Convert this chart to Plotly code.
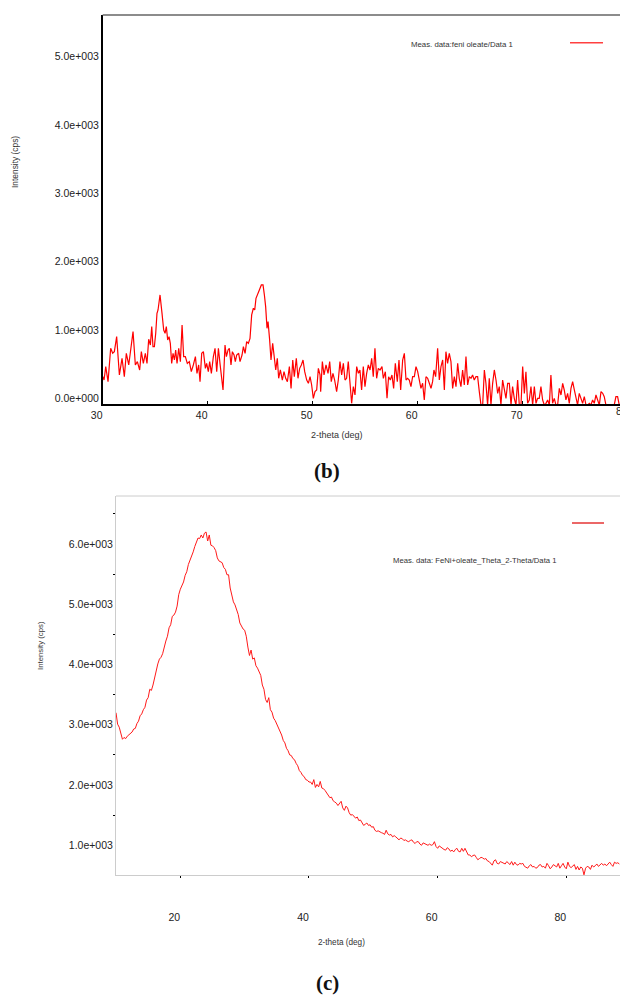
import plotly.graph_objects as go

# ---------------- panel (b): feni oleate, 30-80 deg ----------------
two_theta_b = [
    30.0, 30.13, 30.29, 30.51, 30.76, 30.95, 31.11, 31.33, 31.59, 31.84, 32.06, 32.25, 32.48, 32.67,
    32.89, 33.11, 33.30, 33.52, 33.68, 33.87, 34.06, 34.22, 34.38, 34.54, 34.67, 34.79, 34.92, 35.05,
    35.17, 35.27, 35.46, 35.65, 35.81, 35.94, 36.06, 36.19, 36.32, 36.44, 36.57, 36.70, 36.83, 36.95,
    37.08, 37.24, 37.40, 37.56, 37.71, 37.87, 38.06, 38.25, 38.44, 38.63, 38.83, 38.98, 39.14, 39.27,
    39.43, 39.59, 39.78, 39.90, 40.06, 40.19, 40.35, 40.54, 40.70, 40.86, 41.02, 41.17, 41.33, 41.46,
    41.65, 41.78, 41.94, 42.06, 42.22, 42.35, 42.51, 42.63, 42.76, 42.95, 43.08, 43.27, 43.40, 43.56,
    43.71, 43.87, 44.03, 44.19, 44.35, 44.48, 44.60, 44.76, 44.92, 45.11, 45.27, 45.40, 45.52, 45.65,
    45.75, 45.90, 46.03, 46.19, 46.32, 46.48, 46.63, 46.76, 46.92, 47.11, 47.27, 47.43, 47.59, 47.78,
    47.94, 48.10, 48.25, 48.44, 48.60, 48.76, 48.92, 49.08, 49.24, 49.43, 49.59, 49.75, 49.90, 50.06,
    50.22, 50.38, 50.54, 50.70,
    50.76, 50.92, 51.08, 51.27, 51.46, 51.62, 51.77, 51.93, 52.09, 52.28, 52.44, 52.60, 52.76, 52.92,
    53.08, 53.23, 53.39, 53.55, 53.71, 53.87, 54.03, 54.19, 54.35, 54.50, 54.66, 54.82, 54.98, 55.14,
    55.30, 55.46, 55.62, 55.77, 55.93, 56.09, 56.25, 56.41, 56.60, 56.73, 56.92, 57.08, 57.23, 57.39,
    57.55, 57.71, 57.87, 58.06, 58.22, 58.38, 58.57, 58.73, 58.89, 59.04, 59.20, 59.36, 59.52, 59.68,
    59.84, 60.00, 60.16, 60.31, 60.47, 60.63, 60.79, 60.95, 61.11, 61.27, 61.42, 61.55, 61.71, 61.90,
    62.06, 62.22, 62.38, 62.54, 62.69, 62.85, 63.01, 63.17, 63.33, 63.49, 63.65, 63.81, 63.96, 64.12,
    64.28, 64.44, 64.60, 64.76, 64.92, 65.08, 65.23, 65.39, 65.55, 65.71, 65.87, 66.03, 66.19, 66.35,
    66.50, 66.66, 66.82, 66.98, 67.14, 67.30, 67.46, 67.62, 67.77, 67.93, 68.09, 68.25, 68.41, 68.57,
    68.73, 68.89, 69.04, 69.20, 69.36, 69.52, 69.68, 69.84, 70.00, 70.16, 70.31, 70.47, 70.63, 70.79,
    70.95, 71.11, 71.27, 71.42, 71.58, 71.74, 71.90, 72.06, 72.22, 72.38, 72.54, 72.69, 72.85, 73.01,
    73.17, 73.33, 73.49, 73.65, 73.81, 73.96, 74.12, 74.28, 74.44, 74.60, 74.76, 74.92, 75.08, 75.23,
    75.39, 75.55, 75.71, 75.87, 76.03, 76.19, 76.35, 76.50, 76.66, 76.82, 76.98, 77.14, 77.30, 77.46,
    77.62, 77.77, 77.93, 78.09, 78.25, 78.41, 78.57, 78.72, 78.88, 79.04, 79.20,
]
intensity_b = [
    320, 268, 464, 244, 732, 659, 683, 903, 342, 586, 317, 659, 488, 732,
    976, 488, 537, 415, 683, 512, 659, 512, 864, 781, 1049, 756, 756, 952,
    1244, 1293, 1513, 1244, 1000, 952, 1049, 854, 903, 805, 512, 659, 561, 708,
    512, 732, 537, 1074, 610, 610, 512, 537, 390, 488, 610, 366, 488, 244,
    659, 683, 439, 512, 390, 537, 366, 610, 732, 390, 732, 512, 268, 122,
    781, 610, 708, 732, 488, 683, 634, 537, 634, 659, 537, 634, 756, 659,
    830, 805, 878, 1220, 1318, 1293, 1464, 1513, 1586, 1659, 1659, 1513, 1342, 1025,
    1122, 854, 561, 805, 634, 415, 586, 293, 415, 268, 390, 293, 244, 464,
    146, 561, 317, 586, 293, 439, 488, 561, 390, 268, 220, 317, 195, 0,
    98, 122, 439, 342,
    98, 537, 342, 488, 366, 537, 244, 366, 268, 98, 268, 537, 342, 512,
    268, 293, 537, 220, -73, 171, 49, 464, 366, 415, 122, 464, 171, 366,
    488, 415, 586, 317, 732, 293, 439, 415, 464, 293, 390, 0, 317, 268,
    342, 146, 512, 244, 561, 122, 561, 659, 268, 293, 268, 171, 317, 317,
    464, 390, 268, 146, 220, -24, 317, 293, 220, 146, 244, 415, 317, 732,
    268, 464, 561, 122, 683, 512, 659, 537, 146, 317, 171, 512, 293, 171,
    415, 195, 610, 195, 317, 293, 342, 268, 317, 317, 98, -98, -98, 415,
    220, -98, 293, -98, 220, 415, 268, 73, 171, -98, 268, 146, 0, 220,
    220, -98, 171, 0, -98, 268, -98, -98, 464, 73, 390, -73, -24, 171,
    -98, 171, -73, 0, 0, 171, -24, -98, -73, -24, -98, 342, -73, 0,
    -98, -98, 146, 49, 220, 122, -24, 73, -73, 146, 244, 122, -24, -98,
    73, 0, -73, 24, -98, -98, -73, -98, -24, -73, 49, -24, -98, 98,
    73, 24, -98, -98, -98, -98, -98, -98, 24, 24, -98,
]

# ---------------- panel (c): FeNi+oleate, 0.25 deg scan from 10 deg ----------------
scan_start_c, scan_step_c = 10.0, 0.25
intensity_c = [
    3200, 3010, 2960, 2850,   # 10
    2760, 2790, 2770, 2810,   # 11
    2830, 2860, 2880, 2930,   # 12
    2940, 3020, 3060, 3150,   # 13
    3180, 3250, 3290, 3410,   # 14
    3450, 3590, 3570, 3660,   # 15
    3790, 3860, 4010, 4090,   # 16
    4120, 4180, 4310, 4390,   # 17
    4470, 4610, 4660, 4800,   # 18
    4820, 4870, 4970, 5160,   # 19
    5250, 5310, 5370, 5480,   # 20
    5540, 5660, 5720, 5810,   # 21
    5870, 5960, 6020, 6100,   # 22
    6090, 6150, 6100, 6180,   # 23
    6200, 6050, 6150, 5980,   # 24
    5970, 5940, 5890, 5770,   # 25
    5720, 5700, 5690, 5610,   # 26
    5580, 5490, 5490, 5270,   # 27
    5170, 5040, 4990, 4900,   # 28
    4830, 4690, 4640, 4590,   # 29
    4570, 4470, 4290, 4150,   # 30
    4240, 4090, 4110, 3980,   # 31
    3940, 3870, 3820, 3660,   # 32
    3590, 3420, 3370, 3450,   # 33
    3250, 3210, 3110, 3070,   # 34
    3010, 2960, 2880, 2830,   # 35
    2740, 2700, 2610, 2570,   # 36
    2500, 2490, 2440, 2420,   # 37
    2360, 2320, 2240, 2210,   # 38
    2160, 2140, 2090, 2080,   # 39
    2050, 2050, 2010, 2090,   # 40
    1960, 2010, 1970, 2060,   # 41
    1950, 1940, 1910, 1870,   # 42
    1840, 1790, 1800, 1740,   # 43
    1720, 1700, 1660, 1690,   # 44
    1730, 1620, 1580, 1650,   # 45
    1620, 1540, 1500, 1510,   # 46
    1470, 1450, 1470, 1410,   # 47
    1420, 1380, 1330, 1350,   # 48
    1370, 1330, 1340, 1300,   # 49
    1310, 1250, 1230, 1240,   # 50
    1220, 1210, 1200, 1180,   # 51
    1250, 1190, 1170, 1180,   # 52
    1140, 1160, 1140, 1120,   # 53
    1090, 1120, 1110, 1080,   # 54
    1090, 1070, 1060, 1080,   # 55
    1090, 1050, 1030, 1060,   # 56
    1060, 1020, 1000, 1040,   # 57
    1030, 1010, 1000, 1020,   # 58
    1000, 1010, 1060, 980,    # 59
    950, 990, 970, 940,       # 60
    930, 920, 960, 940,       # 61
    900, 920, 890, 930,       # 62
    950, 900, 890, 950,       # 63
    900, 950, 880, 840,       # 64
    840, 810, 830, 840,       # 65
    800, 760, 780, 800,       # 66
    790, 770, 780, 740,       # 67
    730, 700, 670, 740,       # 68
    760, 700, 690, 730,       # 69
    720, 700, 690, 730,       # 70
    710, 680, 730, 670,       # 71
    720, 680, 670, 700,       # 72
    690, 700, 650, 640,       # 73
    620, 660, 680, 640,       # 74
    650, 620, 630, 670,       # 75
    680, 640, 650, 620,       # 76
    700, 660, 610, 640,       # 77
    680, 660, 640, 700,       # 78
    620, 660, 700, 640,       # 79
    610, 720, 650, 630,       # 80
    660, 680, 600, 650,       # 81
    590, 640, 620, 510,       # 82
    620, 650, 640, 600,       # 83
    670, 640, 660, 690,       # 84
    650, 680, 700, 670,       # 85
    690, 660, 700, 720,       # 86
    680, 650, 720, 700,       # 87
    710, 690,                 # 88
]
two_theta_c = [scan_start_c + scan_step_c * i for i in range(len(intensity_c))]

# tick labels in the instrument's exponent style
ticks_b = [0, 1000, 2000, 3000, 4000, 5000]
ticks_c = [1000, 2000, 3000, 4000, 5000, 6000]
xticks_b = [30, 40, 50, 60, 70]
xticks_c = [20, 40, 60, 80]


def sci(v):
    m, e = f"{v:.1e}".split("e")
    return f"{m}e{e[0]}{int(e[1:]):03d}"


W, H = 620, 997
FONT = "Liberation Sans, Arial, sans-serif"


def px_x(p):
    return p / W


def px_y(p):
    return 1 - p / H


# panel frames (pixel positions)
b_left, b_top, b_bottom = 102.7, 15, 404
c_left, c_top, c_bottom = 116, 496, 875

fig = go.Figure()
fig.add_trace(go.Scatter(x=two_theta_b, y=intensity_b, mode="lines",
                         line=dict(color="#ff0000", width=1.2),
                         xaxis="x", yaxis="y", showlegend=False, hoverinfo="skip"))
fig.add_trace(go.Scatter(x=two_theta_c, y=intensity_c, mode="lines",
                         line=dict(color="#ff1a1a", width=1),
                         xaxis="x2", yaxis="y2", showlegend=False, hoverinfo="skip"))

tick_font = dict(family=FONT, size=10.5, color="#222")

fig.update_layout(
    width=W, height=H,
    margin=dict(l=0, r=0, t=0, b=0, pad=0),
    paper_bgcolor="white", plot_bgcolor="white",
    xaxis=dict(domain=[px_x(b_left), 1], range=[30, 79.27], anchor="y", automargin=False,
               tickvals=xticks_b, ticktext=[str(v) for v in xticks_b],
               ticks="inside", ticklen=3, tickcolor="black", tickwidth=1,
               ticklabelshift=-6,
               showline=True, linecolor="black", linewidth=2,
               showgrid=False, zeroline=False, tickfont=tick_font),
    yaxis=dict(domain=[px_y(b_bottom), px_y(b_top)], range=[-83, 5610], anchor="x",
               automargin=False,
               tickvals=ticks_b, ticktext=[sci(v) for v in ticks_b], ticks="",
               showline=True, linecolor="black", linewidth=1.5,
               showgrid=False, zeroline=False, tickfont=tick_font),
    xaxis2=dict(domain=[px_x(c_left), 1], range=[10, 88.35], anchor="y2", automargin=False,
                tickvals=xticks_c, ticktext=[str(v) for v in xticks_c],
                ticks="outside", ticklen=2, tickcolor="black", tickwidth=1,
                ticklabelstandoff=30, ticklabelshift=-6,
                showline=True, linecolor="#cccccc", linewidth=1,
                showgrid=False, zeroline=False, tickfont=tick_font),
    yaxis2=dict(domain=[px_y(c_bottom), px_y(c_top)], range=[507, 6797], anchor="x2",
                automargin=False,
                tickvals=ticks_c, ticktext=[sci(v) for v in ticks_c], ticks="",
                minor=dict(tickvals=[1500, 2500, 3500, 4500, 5500, 6500],
                           ticks="outside", ticklen=2, tickcolor="black", tickwidth=1),
                showline=True, linecolor="#cccccc", linewidth=1,
                showgrid=False, zeroline=False, tickfont=tick_font),
)

shapes = [
    # top borders of both frames
    dict(type="line", xref="paper", yref="paper", x0=px_x(b_left), x1=1,
         y0=px_y(b_top), y1=px_y(b_top), line=dict(color="#666", width=1.5)),
    dict(type="line", xref="paper", yref="paper", x0=px_x(c_left), x1=1,
         y0=px_y(c_top), y1=px_y(c_top), line=dict(color="#cccccc", width=1)),
    # legend swatches
    dict(type="line", xref="paper", yref="paper", x0=px_x(570), x1=px_x(603),
         y0=px_y(42.7), y1=px_y(42.7), line=dict(color="#ff4040", width=1.5)),
    dict(type="line", xref="paper", yref="paper", x0=px_x(572), x1=px_x(604),
         y0=px_y(523), y1=px_y(523), line=dict(color="#dd0000", width=1.2)),
]
fig.update_layout(shapes=shapes)


def ann(text, x, y, size, color="#333", angle=0, bold=False, family=FONT, xanchor="center"):
    fig.add_annotation(text=f"<b>{text}</b>" if bold else text,
                       xref="paper", yref="paper", x=px_x(x), y=px_y(y),
                       xanchor=xanchor, yanchor="middle", showarrow=False,
                       textangle=angle, font=dict(family=family, size=size, color=color))


# the 80 deg label sits right on the page edge
ann("80", 622, 411, 10.5, color="#222")
ann("Intensity (cps)", 15, 162, 8.4, angle=-90)
ann("2-theta (deg)", 336.5, 435, 9)
ann("Meas. data:feni oleate/Data 1", 409, 44.7, 7.8, xanchor="left")
ann("(b)", 327, 471, 21, color="#111", bold=True, family="Liberation Serif, serif")

ann("Intensity (cps)", 40, 646, 7.8, angle=-90)
ann("2-theta (deg)", 341.5, 942, 8.2)
ann("Meas. data: FeNi+oleate_Theta_2-Theta/Data 1", 391, 560, 7.7, xanchor="left")
ann("(c)", 327, 983, 21, color="#111", bold=True, family="Liberation Serif, serif")

fig.write_html("out.html")
